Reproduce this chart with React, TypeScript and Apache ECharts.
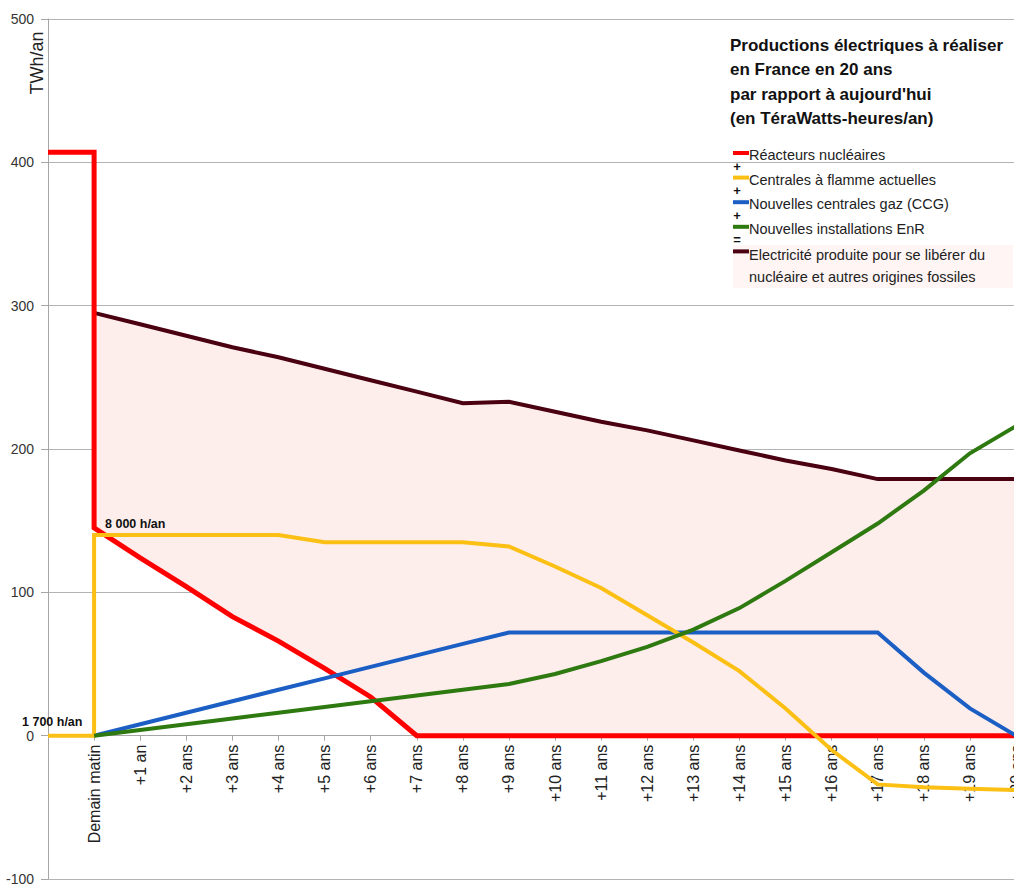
import React, { useEffect, useRef } from "react";
import * as echarts from "echarts";

// Category labels along the x axis (index 0 = today, no label)
const xLabels: string[] = [
  "", "Demain matin", "+1 an", "+2 ans", "+3 ans", "+4 ans", "+5 ans", "+6 ans",
  "+7 ans", "+8 ans", "+9 ans", "+10 ans", "+11 ans", "+12 ans", "+13 ans",
  "+14 ans", "+15 ans", "+16 ans", "+17 ans", "+18 ans", "+19 ans", "+20 ans",
];

// Series values as [categoryIndex, TWh/an]
const nuclear: [number, number][] = [
  [0, 407], [1, 407], [1, 145], [2, 124], [3, 104], [4, 83], [5, 66], [6, 47], [7, 27],
  [8, 0], [9, 0], [10, 0], [11, 0], [12, 0], [13, 0], [14, 0], [15, 0], [16, 0], [17, 0],
  [18, 0], [19, 0], [20, 0], [21, 0],
];
const flame: [number, number][] = [
  [0, 0], [1, 0], [1, 140], [2, 140], [3, 140], [4, 140], [5, 140], [6, 135], [7, 135],
  [8, 135], [9, 135], [10, 132], [11, 118], [12, 103], [13, 84], [14, 65], [15, 45],
  [16, 19], [17, -10], [18, -34], [19, -36], [20, -37], [21, -38],
];
const gas: [number, number][] = [
  [1, 0], [2, 8], [3, 16], [4, 24], [5, 32], [6, 40], [7, 48], [8, 56], [9, 64], [10, 72],
  [11, 72], [12, 72], [13, 72], [14, 72], [15, 72], [16, 72], [17, 72], [18, 72],
  [19, 44], [20, 19], [21, 0],
];
const enr: [number, number][] = [
  [1, 0], [2, 4], [3, 8], [4, 12], [5, 16], [6, 20], [7, 24], [8, 28], [9, 32], [10, 36],
  [11, 43], [12, 52], [13, 62], [14, 74], [15, 89], [16, 108], [17, 128], [18, 148],
  [19, 171], [20, 197], [21, 216],
];
const total: [number, number][] = [
  [1, 295], [2, 287], [3, 279], [4, 271], [5, 264], [6, 256], [7, 248], [8, 240], [9, 232],
  [10, 233], [11, 226], [12, 219], [13, 213], [14, 206], [15, 199], [16, 192], [17, 186],
  [18, 179], [19, 179], [20, 179], [21, 179],
];

const seriesNames = [
  "Réacteurs nucléaires",
  "Centrales à flamme actuelles",
  "Nouvelles centrales gaz (CCG)",
  "Nouvelles installations EnR",
  "Electricité produite pour se libérer du\nnucléaire et autres origines fossiles",
];
const colors = ["#ff0000", "#fcbf14", "#1b5ec4", "#2e7a10", "#4a0010"];
const signs = ["+", "+", "+", "="];
const FILL = "#fdeeec";
const FONT = "'Liberation Sans', Arial, sans-serif";
const Y_MIN = -100;
const Y_MAX = 500;

export default function App() {
  const ref = useRef<HTMLDivElement>(null);
  useEffect(() => {
    if (!ref.current) return;
    const chart = echarts.init(ref.current, undefined, { renderer: "svg" });

    const gridTop = 19;
    const gridBottom = 5;
    const plotH = 884 - gridTop - gridBottom;
    // move the x axis from the grid bottom up to the value 0
    const zeroOffset = -((0 - Y_MIN) / (Y_MAX - Y_MIN)) * plotH;

    // bottom edge of the filled band: the nuclear line at each x of the total line
    const fillBase = total.map(([x]) => {
      const pts = nuclear.filter((p) => p[0] === x);
      return [x, pts[pts.length - 1][1]];
    });

    const line = (name: string, data: any, color: string, width: number, z: number) => ({
      type: "line",
      name,
      data,
      symbol: "none",
      z,
      lineStyle: { color, width, join: "miter", cap: "butt" },
      silent: true,
    });

    const legendTop = 148;
    const rowH = 24.6;
    const graphics: any[] = [
      {
        type: "text", x: 37, y: 63, rotation: Math.PI / 2, z: 100,
        style: { text: "TWh/an", font: `18px ${FONT}`, fill: "#222", align: "center", verticalAlign: "middle" },
      },
      {
        type: "text", x: 730, y: 33, z: 100,
        style: {
          text: "Productions électriques à réaliser\nen France en 20 ans\npar rapport à aujourd'hui\n(en TéraWatts-heures/an)",
          font: `bold 17px ${FONT}`, fill: "#111", lineHeight: 24.5, verticalAlign: "top",
        },
      },
      {
        type: "rect", z: 99, shape: { x: 733, y: 245, width: 280, height: 43 },
        style: { fill: "#fef5f4" },
      },
      {
        type: "text", x: 105, y: 524, z: 100,
        style: { text: "8 000 h/an", font: `bold 12.5px ${FONT}`, fill: "#111", verticalAlign: "middle" },
      },
      {
        type: "text", x: 22, y: 722, z: 100,
        style: { text: "1 700 h/an", font: `bold 12.5px ${FONT}`, fill: "#111", verticalAlign: "middle" },
      },
    ];
    seriesNames.forEach((n, i) => {
      const cy = legendTop + 7 + i * rowH;
      graphics.push({
        type: "rect", z: 100, shape: { x: 733, y: cy - 4, width: 16, height: 4 },
        style: { fill: colors[i] },
      });
      const multi = n.indexOf("\n") >= 0;
      graphics.push({
        type: "text", x: 749, y: multi ? cy - 9 : cy, z: 100,
        style: {
          text: n, font: `14.5px ${FONT}`, fill: "#222",
          verticalAlign: multi ? "top" : "middle", lineHeight: 22,
        },
      });
      if (i < signs.length) {
        graphics.push({
          type: "text", x: 737, y: cy + 11, z: 100,
          style: { text: signs[i], font: `bold 13px ${FONT}`, fill: "#111", align: "center", verticalAlign: "middle" },
        });
      }
    });

    chart.setOption({
      animation: false,
      grid: { left: 48, right: -2, top: gridTop, bottom: gridBottom, containLabel: false, outerBoundsMode: "none" },
      xAxis: {
        type: "value",
        position: "bottom",
        offset: zeroOffset,
        min: 0,
        max: 21,
        interval: 1,
        axisLine: { onZero: false, lineStyle: { color: "#a6a6a6", width: 1 } },
        axisTick: { show: true, length: 5, lineStyle: { color: "#a6a6a6" } },
        splitLine: { show: false },
        axisLabel: {
          rotate: 90,
          margin: 9,
          fontSize: 16,
          fontFamily: FONT,
          color: "#222",
          formatter: (v: number) => xLabels[Math.round(v)] ?? "",
          showMinLabel: true,
          showMaxLabel: true,
        },
      },
      yAxis: {
        type: "value",
        min: Y_MIN,
        max: Y_MAX,
        interval: 100,
        axisLine: { show: true, onZero: false, lineStyle: { color: "#a6a6a6", width: 1 } },
        axisTick: { show: true, length: 7, lineStyle: { color: "#a6a6a6" } },
        splitLine: { show: true, lineStyle: { color: "#b3b3b3", width: 1 } },
        axisLabel: { fontSize: 14, fontFamily: FONT, color: "#333", margin: 14 },
      },
      series: [
        {
          type: "custom",
          silent: true,
          z: 1,
          data: [total[0]],
          encode: { x: 0, y: 1 },
          renderItem: (_params: any, api: any) => {
            const pts: number[][] = [];
            total.forEach((p) => pts.push(api.coord(p)));
            for (let i = fillBase.length - 1; i >= 0; i--) pts.push(api.coord(fillBase[i]));
            return { type: "polygon", shape: { points: pts }, style: { fill: FILL } };
          },
        },
        line(seriesNames[4], total, colors[4], 4, 2),
        line(seriesNames[0], nuclear, colors[0], 5, 3),
        line(seriesNames[2], gas, colors[2], 4, 4),
        line(seriesNames[1], flame, colors[1], 4, 5),
        line(seriesNames[3], enr, colors[3], 4, 6),
      ],
      graphic: graphics,
    });
    return () => chart.dispose();
  }, []);
  return (
    <div
      ref={ref}
      style={{ position: "fixed", left: 0, top: 0, width: 1014, height: 884, background: "#fff" }}
    />
  );
}
